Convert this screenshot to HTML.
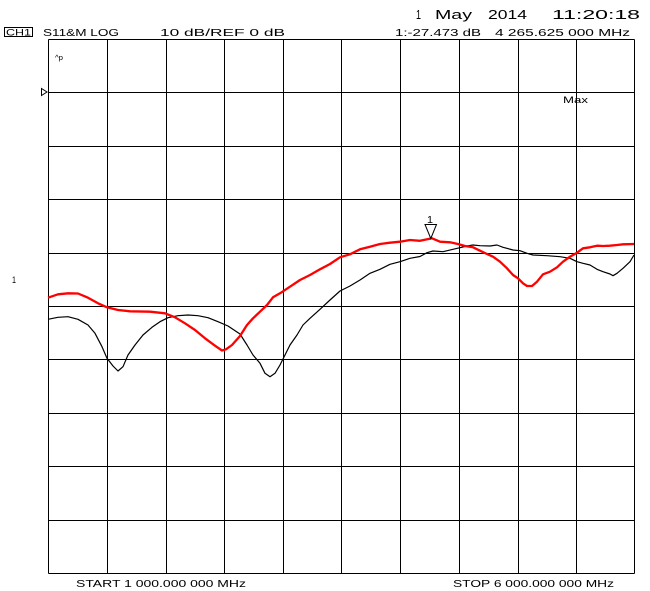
<!DOCTYPE html>
<html>
<head>
<meta charset="utf-8">
<style>
  html, body { margin: 0; padding: 0; background: #ffffff; }
  body { width: 650px; height: 591px; overflow: hidden; }
  svg { display: block; }
  text { font-family: "Liberation Sans", "DejaVu Sans", sans-serif; fill: #000; }
</style>
</head>
<body>
<svg width="650" height="591" viewBox="0 0 650 591" xmlns="http://www.w3.org/2000/svg">
  <rect x="0" y="0" width="650" height="591" fill="#ffffff"/>

  <!-- Header texts -->
  <text x="416" y="19" font-size="12.5" textLength="5" lengthAdjust="spacingAndGlyphs">1</text>
  <text x="435" y="19" font-size="12.5" textLength="37" lengthAdjust="spacingAndGlyphs">May</text>
  <text x="488" y="19" font-size="12.5" textLength="39" lengthAdjust="spacingAndGlyphs">2014</text>
  <text x="552" y="19" font-size="12.5" textLength="88" lengthAdjust="spacingAndGlyphs">11:20:18</text>

  <rect x="4.5" y="27.5" width="28" height="9" fill="none" stroke="#000" stroke-width="1"/>
  <text x="6" y="35.5" font-size="9.5" textLength="25" lengthAdjust="spacingAndGlyphs">CH1</text>
  <text x="43" y="36" font-size="10" textLength="76" lengthAdjust="spacingAndGlyphs">S11&amp;M LOG</text>
  <text x="160" y="36" font-size="10" textLength="125" lengthAdjust="spacingAndGlyphs">10  dB/REF  0  dB</text>
  <text x="395" y="36" font-size="10" textLength="86" lengthAdjust="spacingAndGlyphs">1:-27.473 dB</text>
  <text x="495" y="36" font-size="10" textLength="135" lengthAdjust="spacingAndGlyphs">4 265.625 000 MHz</text>

  <!-- Grid -->
  <g stroke="#000" stroke-width="1" fill="none" shape-rendering="crispEdges">
    <line x1="48.5" y1="39.5" x2="48.5" y2="573.5"/>
    <line x1="107.5" y1="39.5" x2="107.5" y2="573.5"/>
    <line x1="166.5" y1="39.5" x2="166.5" y2="573.5"/>
    <line x1="224.5" y1="39.5" x2="224.5" y2="573.5"/>
    <line x1="283.5" y1="39.5" x2="283.5" y2="573.5"/>
    <line x1="341.5" y1="39.5" x2="341.5" y2="573.5"/>
    <line x1="400.5" y1="39.5" x2="400.5" y2="573.5"/>
    <line x1="459.5" y1="39.5" x2="459.5" y2="573.5"/>
    <line x1="518.5" y1="39.5" x2="518.5" y2="573.5"/>
    <line x1="576.5" y1="39.5" x2="576.5" y2="573.5"/>
    <line x1="634.5" y1="39.5" x2="634.5" y2="573.5"/>

    <line x1="48.5" y1="39.5" x2="634.5" y2="39.5"/>
    <line x1="48.5" y1="92.5" x2="634.5" y2="92.5"/>
    <line x1="48.5" y1="146.5" x2="634.5" y2="146.5"/>
    <line x1="48.5" y1="199.5" x2="634.5" y2="199.5"/>
    <line x1="48.5" y1="253.5" x2="634.5" y2="253.5"/>
    <line x1="48.5" y1="306.5" x2="634.5" y2="306.5"/>
    <line x1="48.5" y1="359.5" x2="634.5" y2="359.5"/>
    <line x1="48.5" y1="413.5" x2="634.5" y2="413.5"/>
    <line x1="48.5" y1="466.5" x2="634.5" y2="466.5"/>
    <line x1="48.5" y1="520.5" x2="634.5" y2="520.5"/>
    <line x1="48.5" y1="573.5" x2="634.5" y2="573.5"/>
  </g>

  <!-- reference marker -->
  <polygon points="41.5,88.5 41.5,95.5 47,92" fill="#fff" stroke="#000" stroke-width="1"/>
  <text x="55" y="60" font-size="7" textLength="8" lengthAdjust="spacingAndGlyphs">^p</text>
  <text x="563" y="103" font-size="9" textLength="25" lengthAdjust="spacingAndGlyphs">Max</text>
  <text x="12" y="283" font-size="9" textLength="4" lengthAdjust="spacingAndGlyphs">1</text>

  <!-- Black trace -->
  <polyline fill="none" stroke="#000" stroke-width="1.2" stroke-linejoin="round" points="
    48,319.3 58,317.3 68,316.7 78,319.3 88,325 95,333.3 102,346.7 107,358.3 113,366 118,371 123,366.7 128,355 135,345 143,335 152,327.3 160,321.7 168,317.7 178,315.7 188,315 198,315.7 208,317.7 218,321.7 228,326 240,334 247,345 253,355 260,363.3 265,373.3 270,376.7 275,373.3 280,365 285,355 290,345 297,335 303,325 310,318.3 320,309.3 330,300 340,291 350,286 360,280 370,273.3 380,269.3 390,264.3 400,261.7 410,258.3 420,256.5 427,252.7 433,251 443,251.7 453,249.3 460,247.7 467,246 473,245 480,245.7 490,246 497,245 503,247.3 513,250 520,250.7 527,253.3 533,255 547,255.7 560,256.7 570,258.3 577,261.7 583,263.3 590,265 597,269.3 603,271.7 610,274 613,275.7 617,273.3 623,268.3 630,261.7 634,255"/>

  <!-- Red trace -->
  <polyline fill="none" stroke="#ff0000" stroke-width="2.3" stroke-linejoin="round" points="
    48,297.7 58,294.3 68,293.3 78,293.5 88,297.7 98,303.3 107,307.3 118,310 130,311.3 150,311.7 165,313.3 175,317.3 185,323.3 195,330 205,338.3 215,345.7 222,350.5 226,349.3 232,345 240,336 247,325 253,318.3 260,311.7 267,305 273,297.3 280,293.3 290,286.7 300,280 310,275 320,269.3 330,264 340,257.3 350,254.3 360,249.3 370,246.7 380,244 390,242.7 400,241.7 410,240 420,240.8 432,238.3 440,241.7 450,242.3 458,244 465,246 473,247.3 480,250.7 487,254 493,256.7 500,261.7 507,268.3 513,275 518,278.3 523,283.3 527,286 532,286 537,281.7 543,274.3 550,271.7 557,267.3 563,261.7 570,256.7 577,252.7 583,248.3 590,247.3 597,245.7 603,246 610,245.7 617,245 623,244.3 634,244"/>

  <!-- Marker 1 -->
  <polygon points="425,224.5 436.5,224.5 430.8,238.5" fill="#fff" stroke="#000" stroke-width="1"/>
  <text x="427" y="223" font-size="10" textLength="6" lengthAdjust="spacingAndGlyphs">1</text>

  <!-- Footer -->
  <text x="76" y="587" font-size="10.5" textLength="170" lengthAdjust="spacingAndGlyphs">START 1 000.000 000 MHz</text>
  <text x="453" y="587" font-size="10.5" textLength="161" lengthAdjust="spacingAndGlyphs">STOP 6 000.000 000 MHz</text>
</svg>
</body>
</html>
